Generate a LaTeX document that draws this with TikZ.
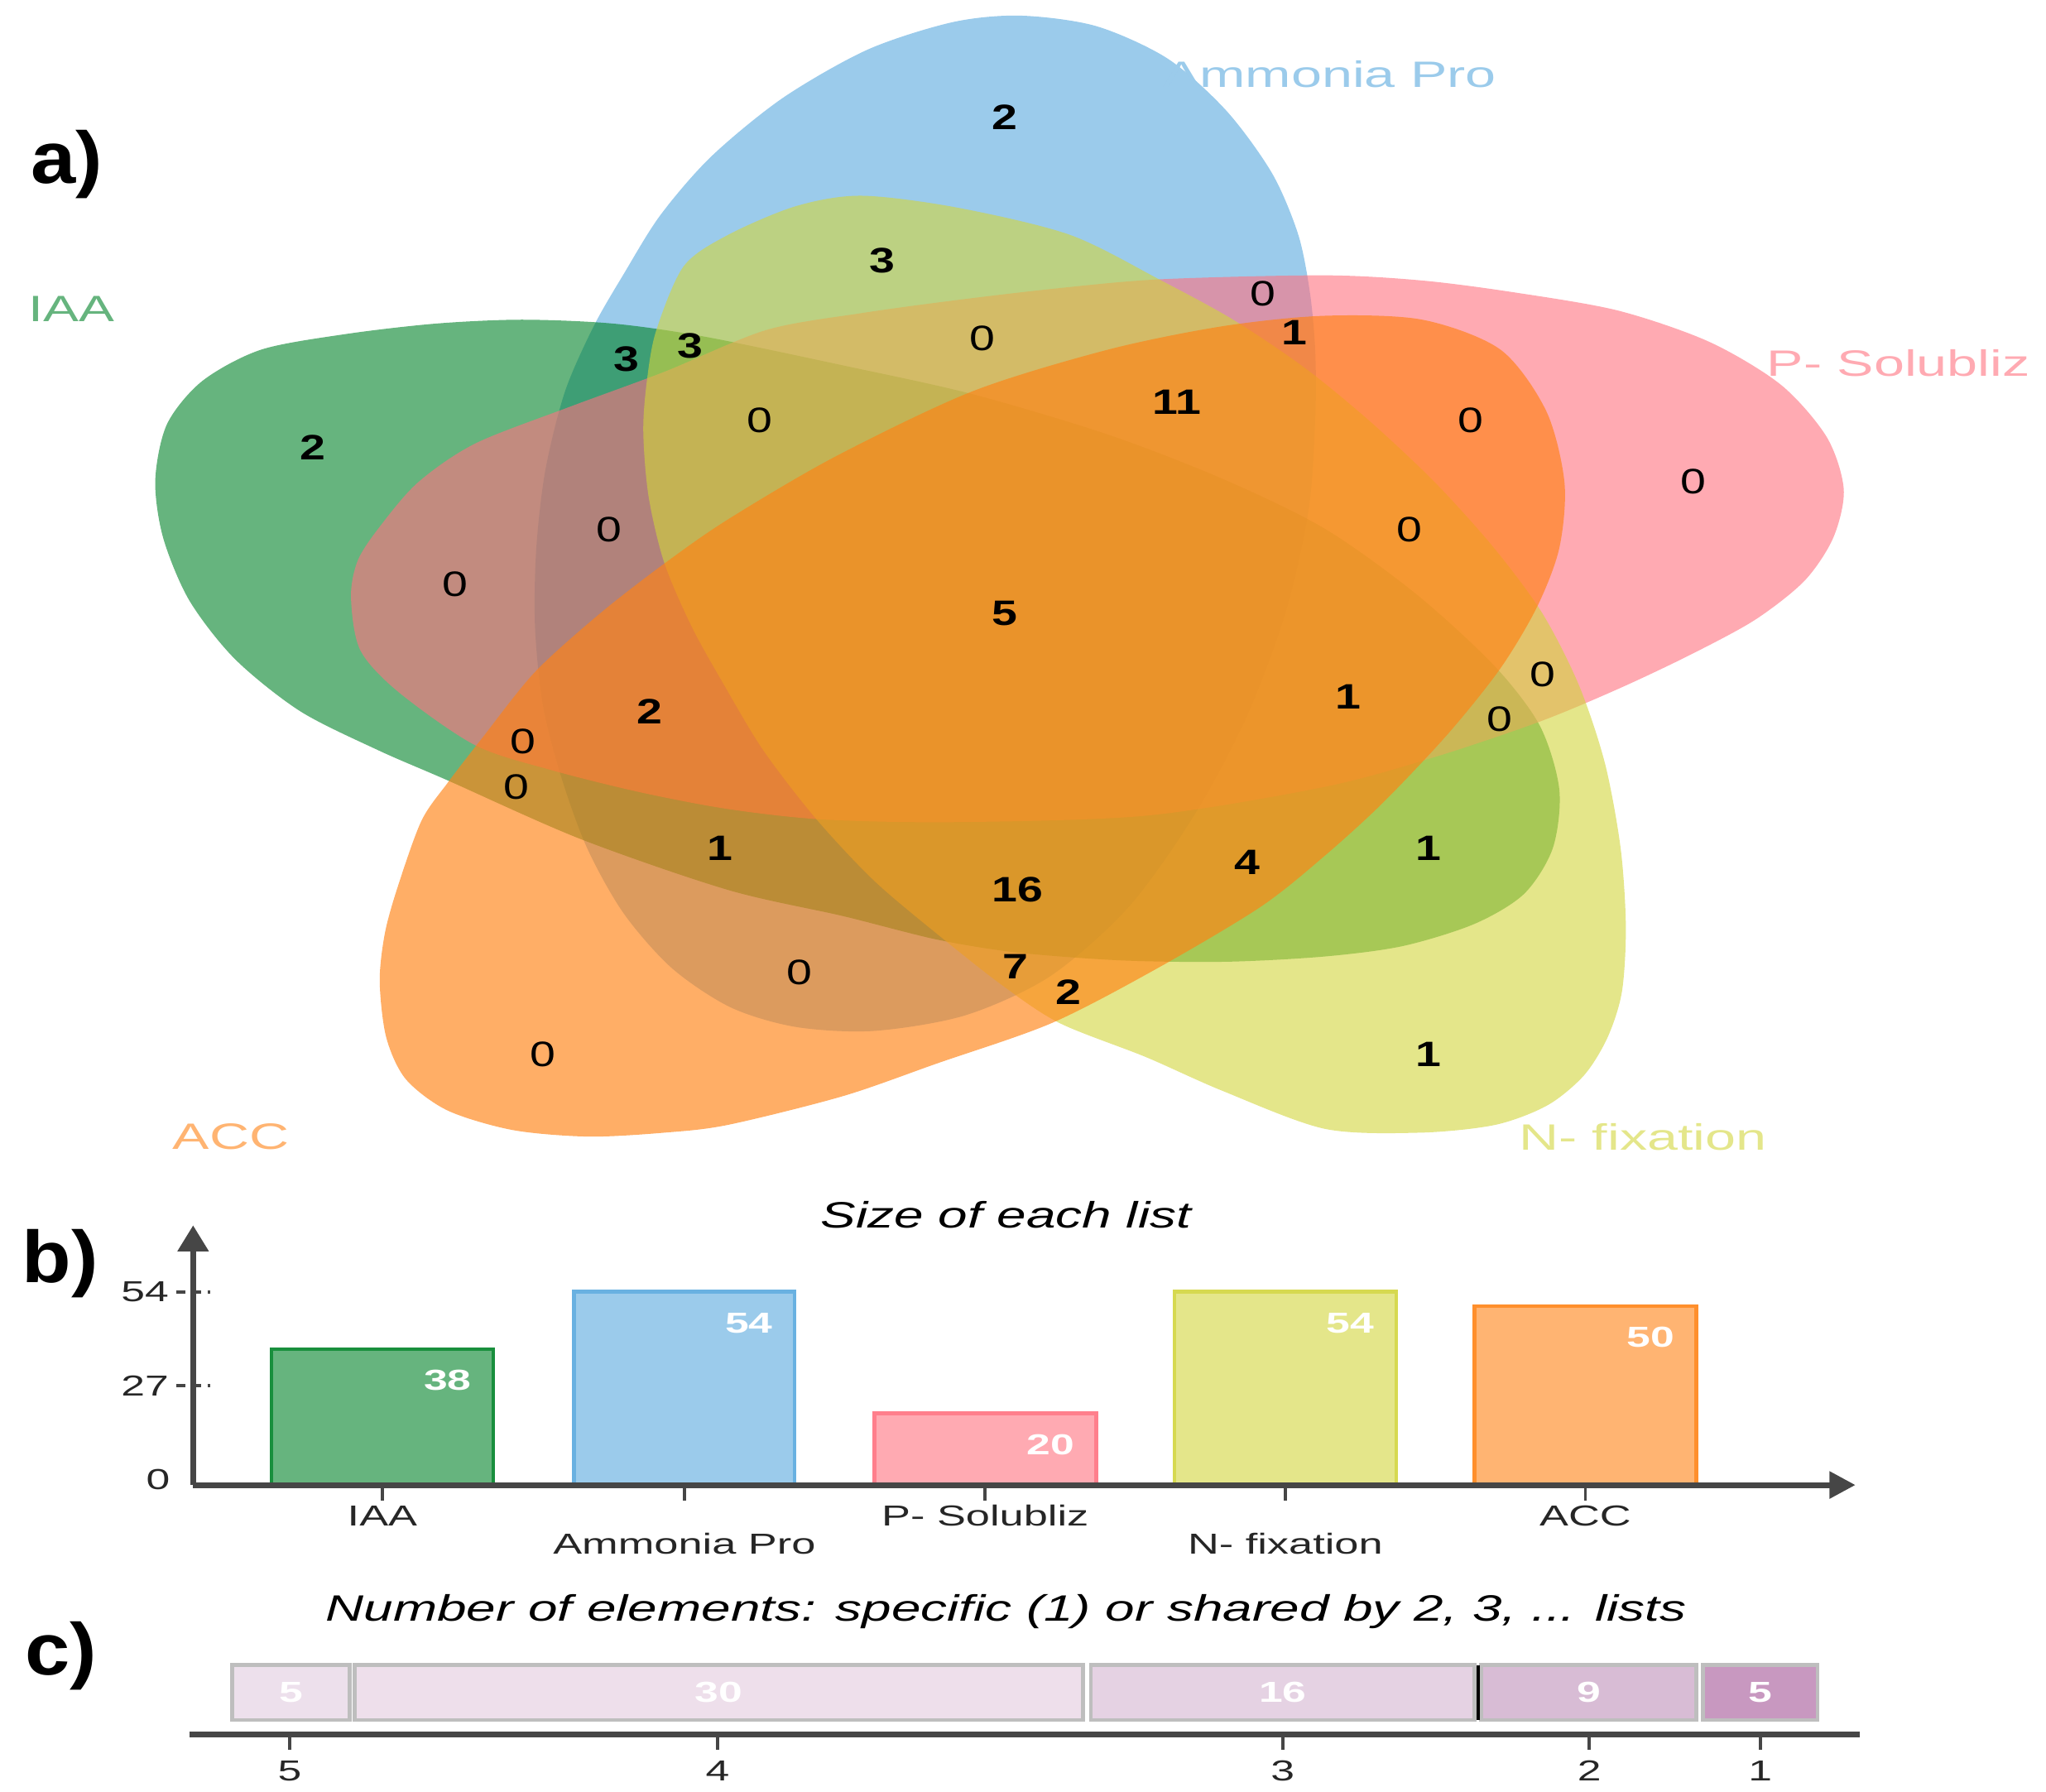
\documentclass[tikz,border=0pt]{standalone}
\usepackage{fontspec}
\setmainfont{Liberation Sans}
\usetikzlibrary{arrows.meta}

\definecolor{iaa}{RGB}{0,130,40}
\definecolor{ammo}{RGB}{88,168,222}
\definecolor{psol}{RGB}{255,113,127}
\definecolor{nfix}{RGB}{210,213,60}
\definecolor{acc}{RGB}{255,130,20}
\definecolor{axisgray}{RGB}{70,70,70}
\definecolor{segborder}{RGB}{190,190,190}
\definecolor{seg5}{RGB}{237,224,236}
\definecolor{seg4}{RGB}{238,223,235}
\definecolor{seg3}{RGB}{229,210,227}
\definecolor{seg2}{RGB}{216,188,213}
\definecolor{seg1}{RGB}{200,152,192}

% the whole figure is stretched sideways
\newcommand{\hstr}[2]{\scalebox{#1}[1]{#2}}

\tikzset{
  setshape/.style={fill=#1, fill opacity=0.6},
  setname/.style={text=#1!60, font=\fontsize{8}{9}\selectfont, inner sep=0pt},
  nzero/.style={font=\fontsize{7.7}{9}\selectfont\bfseries, inner sep=0pt},
  zero/.style={font=\fontsize{7.7}{9}\selectfont, inner sep=0pt},
  panel/.style={font=\fontsize{16}{18}\selectfont\bfseries, inner sep=0pt},
  axtext/.style={font=\fontsize{6.3}{7}\selectfont, text=black!85, inner sep=0pt},
  inbar/.style={font=\fontsize{6.3}{7}\selectfont\bfseries, text=white, inner sep=0pt},
  chtitle/.style={font=\fontsize{8}{9}\selectfont\itshape, inner sep=0pt},
  axisline/.style={draw=axisgray, line width=0.45mm},
  tickline/.style={draw=axisgray, line width=0.25mm},
}

\begin{document}
\begin{tikzpicture}[x=0.1mm, y=-0.1mm]
  \useasboundingbox (0,0) rectangle (1568,1373);

  % a) five set venn
  \fill[setshape=ammo] plot[smooth cycle] coordinates {(455,250) (478,210) (506,165) (545,120) (600,75) (665,38) (730,17) (782,12) (840,20) (895,45) (940,85) (975,133) (995,180) (1004,225) (1008,270) (1008,320) (1003,390) (985,470) (955,550) (915,625) (865,695) (805,748) (740,778) (670,790) (610,787) (560,772) (515,742) (478,700) (450,650) (430,595) (416,540) (410,480) (411,420) (418,360) (433,300)};
  \fill[setshape=iaa] plot[smooth cycle] coordinates {(265,256) (334,248) (400,245) (470,248) (540,258) (646,280) (745,302) (849,333) (937,367) (1015,405) (1085,455) (1145,510) (1180,556) (1195,605) (1190,650) (1168,685) (1130,708) (1075,725) (1015,733) (940,737) (860,736) (780,730) (718,720) (646,702) (558,682) (445,643) (343,598) (290,575) (230,545) (180,505) (145,460) (125,412) (119,368) (128,325) (155,292) (200,268)};
  \fill[setshape=psol] plot[smooth cycle] coordinates {(269,458) (276,498) (305,530) (364,571) (422,590) (490,607) (558,620) (631,628) (733,630) (879,625) (1015,603) (1100,580) (1180,553) (1240,528) (1295,502) (1345,475) (1383,445) (1405,412) (1413,375) (1400,335) (1365,295) (1310,262) (1240,238) (1160,224) (1090,215) (1015,211) (890,214) (810,221) (733,230) (660,240) (587,253) (509,285) (436,312) (364,340) (320,370) (290,405) (274,430)};
  \fill[setshape=nfix] plot[smooth cycle] coordinates {(503,253) (524,204) (558,180) (610,158) (660,150) (733,159) (820,180) (890,215) (945,245) (1000,282) (1050,323) (1100,370) (1145,420) (1182,470) (1210,525) (1230,585) (1242,650) (1246,710) (1243,760) (1232,795) (1214,824) (1186,847) (1146,862) (1088,868) (1015,865) (937,836) (878,810) (812,784) (768,755) (721,718) (670,675) (625,627) (585,575) (555,525) (530,480) (509,431) (497,380) (493,330) (496,290)};
  \fill[setshape=acc, fill opacity=0.65] plot[smooth cycle] coordinates {(937,250) (1015,242) (1090,245) (1150,268) (1185,315) (1199,370) (1195,420) (1178,465) (1150,512) (1110,562) (1060,615) (1015,656) (966,695) (887,742) (806,784) (718,815) (646,840) (558,862) (509,868) (451,871) (393,866) (343,851) (311,827) (296,795) (291,752) (295,715) (305,679) (323,629) (343,600) (370,565) (410,515) (460,470) (509,432) (558,398) (640,350) (745,300) (849,268)};

  \node[panel] (pa) at (51,126) {\hstr{1.1}{a)}};
  \node[setname=iaa] (liaa) at (55,237) {\hstr{1.45}{IAA}};
  \node[setname=ammo] (lammo) at (1019,57) {\hstr{1.5}{Ammonia Pro}};
  \node[setname=psol] (lpsol) at (1455,278) {\hstr{1.5}{P- Solubliz}};
  \node[setname=acc] (lacc) at (177,871) {\hstr{1.5}{ACC}};
  \node[setname=nfix] (lnfix) at (1259,871) {\hstr{1.5}{N- fixation}};

  \foreach \px/\py/\n [count=\i] in {770/90/2, 676/200/3, 992/255/1, 480/275/3, 529/265/3, 902/308/11,
      240/343/2, 770/470/5, 498/545/2, 1033/534/1, 552/650/1, 956/661/4, 1095/650/1,
      780/682/16, 778/741/7, 819/760/2, 1095/808/1}
    \node[nzero] (nz\i) at (\px,\py) {\hstr{1.3}{\n}};
  \foreach \px/\py [count=\i] in {968/225, 753/259, 582/322, 1127/322, 1298/369, 467/406, 1080/406,
      349/448, 1182/517, 1149/551, 401/568, 396/603, 613/745, 416/808}
    \node[zero] (z\i) at (\px,\py) {\hstr{1.3}{0}};

  % b) size of each list
  \node[panel] (pb) at (46,968) {\hstr{1.1}{b)}};
  \node[chtitle] (tb) at (771,931) {\hstr{1.44}{Size of each list}};
  \coordinate (org) at (148,1138);
  \coordinate (ytip) at (148,939);
  \coordinate (xtip) at (1422,1138);

  \foreach \xl/\xr/\v/\c/\nm [count=\i] in {208/378/38/iaa/IAA, 440/609/54/ammo/Ammonia Pro,
      670/840/20/psol/P- Solubliz, 900/1070/54/nfix/N- fixation, 1130/1300/50/acc/ACC} {
    \pgfmathsetmacro\bartop{1138-\v*148/54}
    \pgfmathsetmacro\cx{(\xl+\xr)/2}
    \pgfmathsetmacro\laby{isodd(\i) ? 1161.5 : 1183}
    \fill[\c!60] (\xl,1138) rectangle (\xr,\bartop);
    \draw[\c!90, line width=0.3mm] (\xl,1138) |- (\xr,\bartop) -- (\xr,1138);
    \node[inbar] (bv\i) at (\xr-35,\bartop+24) {\hstr{1.48}{\v}};
    \draw[tickline] (\cx,1138) -- (\cx,1150);
    \node[axtext] (bn\i) at (\cx,\laby) {\hstr{1.5}{\nm}};
  }

  \draw[axisline, -{Triangle[length=2mm,width=2.3mm]}] (org) -- (ytip);
  \draw[axisline, -{Triangle[length=2mm,width=2mm]}] (org) -- (xtip);
  \foreach \py/\n in {990/54, 1062/27} {
    \draw[tickline, dash pattern=on 2pt off 1.4pt] (135,\py) -- (161,\py);
    \node[axtext, anchor=east] (yl\n) at (130,\py) {\hstr{1.48}{\n}};
  }
  \node[axtext, anchor=east] (yl0) at (131,1134) {\hstr{1.48}{0}};

  % c) shared elements
  \node[panel] (pc) at (47,1269) {\hstr{1.1}{c)}};
  \node[chtitle] (tc) at (771,1235) {\hstr{1.44}{Number of elements: specific (1) or shared by 2, 3, ... lists}};
  \foreach \xl/\xr/\v/\c [count=\i] in {178/268/5/seg5, 272/830/30/seg4, 836/1130/16/seg3,
      1135/1300/9/seg2, 1305/1393/5/seg1} {
    \draw[draw=segborder, line width=0.3mm, fill=\c] (\xl,1276) rectangle (\xr,1318);
    \node[inbar] (sv\i) at ({(\xl+\xr)/2},1297) {\hstr{1.48}{\v}};
  }
  \draw[black, line width=0.25mm] (1133,1276) -- (1133,1318);
  \coordinate (cl) at (145,1329);
  \coordinate (cr) at (1425,1329);
  \draw[axisline] (cl) -- (cr);
  \foreach \px/\n in {222/5, 550/4, 983/3, 1218/2, 1349/1} {
    \draw[tickline] (\px,1329) -- (\px,1341);
    \node[axtext] (cn\n) at (\px,1357) {\hstr{1.48}{\n}};
  }
\end{tikzpicture}
\end{document}
